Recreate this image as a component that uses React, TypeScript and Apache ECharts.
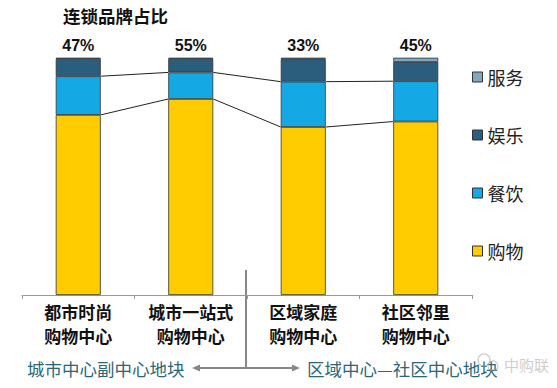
import React, { useEffect, useRef } from "react";
import * as echarts from "echarts";

const categories = ["都市时尚\n购物中心", "城市一站式\n购物中心", "区域家庭\n购物中心", "社区邻里\n购物中心"];
const shopping = [75.9, 82.6, 70.8, 73.1];
const dining = [16.3, 11.2, 19.1, 17.0];
const entertainment = [7.3, 5.7, 9.5, 8.1];
const service = [0.5, 0.5, 0.6, 1.8];
const chainShare = ["47%", "55%", "33%", "45%"];
const legendOrder = ["服务", "娱乐", "餐饮", "购物"];
const titleText = "连锁品牌占比";
const leftZone = "城市中心副中心地块";
const rightZone = "区域中心—社区中心地块";
const watermark = "中购联";

const COLORS: Record<string, string> = {
  购物: "#ffcc00",
  餐饮: "#14a9e4",
  娱乐: "#2b5d7d",
  服务: "#7ea7c1",
};
const BAR_W = 45;
const CJK = "Noto Sans CJK SC";

export default function App() {
  const ref = useRef<HTMLDivElement>(null);
  useEffect(() => {
    if (!ref.current) return;
    const chart = echarts.init(ref.current, undefined, { renderer: "svg" });

    const boundaries = [shopping.map((s, i) => s + dining[i]), shopping.slice()];
    const connectorData: number[][] = [];
    boundaries.forEach((b) => {
      for (let i = 0; i < b.length - 1; i++) connectorData.push([i, b[i], b[i + 1]]);
    });

    const barSeries = (name: string, data: number[], extra: any = {}) => ({
      name,
      type: "bar",
      stack: "total",
      barWidth: BAR_W,
      data,
      itemStyle: { color: COLORS[name], borderColor: "#333", borderWidth: 0.8 },
      emphasis: { disabled: true },
      ...extra,
    });

    const option: any = {
      animation: false,
      title: {
        text: titleText,
        left: 63,
        top: 7,
        padding: 0,
        textStyle: { fontSize: 17.5, fontWeight: "bold", color: "#111", fontFamily: CJK },
      },
      grid: { left: 22, right: 85, top: 57.7, bottom: 93, containLabel: false },
      legend: {
        data: legendOrder,
        orient: "vertical",
        left: 472,
        top: 68,
        padding: 0,
        itemGap: 40,
        itemWidth: 10,
        itemHeight: 10,
        icon: "rect",
        selectedMode: false,
        itemStyle: { borderColor: "#333", borderWidth: 1 },
        textStyle: { fontSize: 18, color: "#222", fontFamily: CJK, lineHeight: 18 },
      },
      xAxis: {
        type: "category",
        data: categories,
        axisLine: { lineStyle: { color: "#999", width: 1 } },
        axisTick: { show: true, length: 4, lineStyle: { color: "#999" } },
        axisLabel: {
          margin: 4,
          fontSize: 17,
          fontWeight: "bold",
          lineHeight: 24,
          color: "#111",
          fontFamily: CJK,
          interval: 0,
        },
      },
      yAxis: { type: "value", min: 0, max: 100, show: false },
      series: [
        barSeries("购物", shopping),
        barSeries("餐饮", dining),
        barSeries("娱乐", entertainment),
        barSeries("服务", service, {
          label: {
            show: true,
            position: "top",
            distance: 4,
            formatter: (p: any) => chainShare[p.dataIndex],
            fontSize: 16,
            fontWeight: "bold",
            color: "#111",
            fontFamily: "Liberation Sans",
          },
        }),
        {
          name: "connectors",
          type: "custom",
          coordinateSystem: "cartesian2d",
          silent: true,
          z: 5,
          data: connectorData,
          encode: { x: 0, y: [1, 2] },
          renderItem: (params: any, api: any) => {
            const i = api.value(0);
            const p1 = api.coord([i, api.value(1)]);
            const p2 = api.coord([i + 1, api.value(2)]);
            const half = BAR_W / 2;
            return {
              type: "line",
              shape: { x1: p1[0] + half, y1: p1[1], x2: p2[0] - half, y2: p2[1] },
              style: { stroke: "#222", lineWidth: 1 },
            };
          },
        },
      ],
      graphic: [
        { type: "line", shape: { x1: 246, y1: 270, x2: 246, y2: 368 }, style: { stroke: "#888", lineWidth: 2 } },
        { type: "line", shape: { x1: 246, y1: 368, x2: 198, y2: 368 }, style: { stroke: "#888", lineWidth: 2 } },
        { type: "line", shape: { x1: 246, y1: 368, x2: 294, y2: 368 }, style: { stroke: "#888", lineWidth: 2 } },
        { type: "polygon", shape: { points: [[192, 368], [200, 364.5], [200, 371.5]] }, style: { fill: "#888" } },
        { type: "polygon", shape: { points: [[300, 368], [292, 364.5], [292, 371.5]] }, style: { fill: "#888" } },
        {
          type: "text",
          x: 27,
          y: 368,
          style: { text: leftZone, fontSize: 17.5, fill: "#2a6779", fontFamily: CJK, verticalAlign: "middle", align: "left" },
        },
        {
          type: "text",
          x: 307,
          y: 368,
          style: { text: rightZone, fontSize: 17.5, fill: "#2a6779", fontFamily: CJK, verticalAlign: "middle", align: "left" },
        },
        {
          type: "text",
          x: 504,
          y: 364,
          z: 10,
          style: { text: watermark, fontSize: 15, fill: "rgba(170,170,170,0.6)", fontFamily: CJK, verticalAlign: "middle", align: "left" },
        },
        { type: "circle", z: 10, shape: { cx: 484, cy: 360, r: 6 }, style: { fill: "none", stroke: "rgba(170,170,170,0.6)", lineWidth: 1.2 } },
        { type: "circle", z: 10, shape: { cx: 493, cy: 366, r: 5 }, style: { fill: "none", stroke: "rgba(170,170,170,0.6)", lineWidth: 1.2 } },
      ],
    };
    chart.setOption(option);
    return () => chart.dispose();
  }, []);
  return <div ref={ref} style={{ position: "absolute", left: 0, top: 0, width: 557, height: 388 }} />;
}
